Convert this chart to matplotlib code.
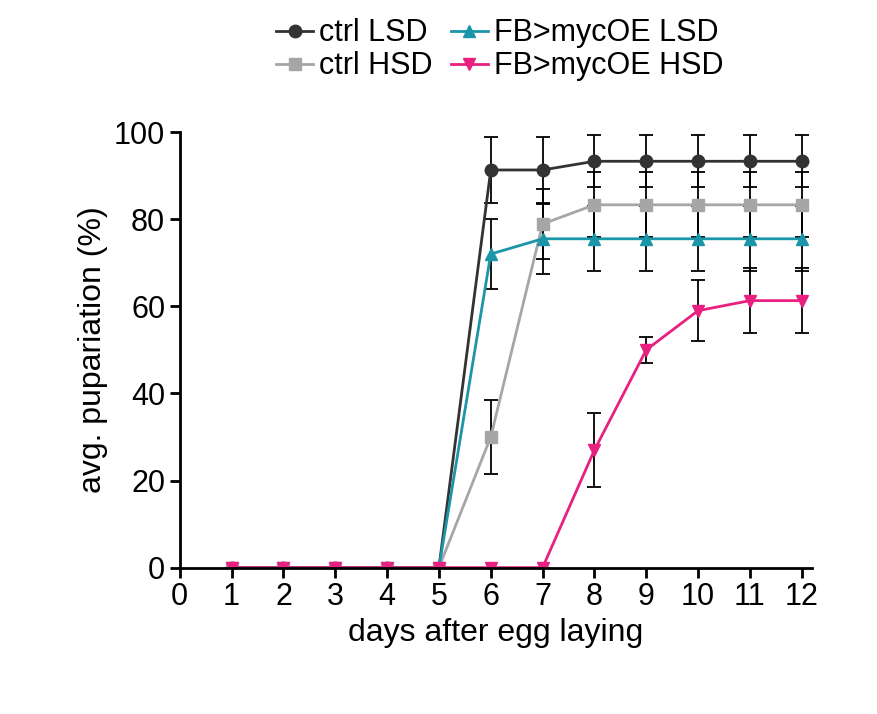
import matplotlib
matplotlib.use("Agg")
import matplotlib.pyplot as plt

days = [1,2,3,4,5,6,7,8,9,10,11,12]
ctrl_lsd = [0,0,0,0,0,91.3,91.3,93.3,93.3,93.3,93.3,93.3]
ctrl_lsd_err = [0,0,0,0,0,7.5,7.5,6,6,6,6,6]
ctrl_hsd = [0,0,0,0,0,30,78.9,83.3,83.3,83.3,83.3,83.3]
ctrl_hsd_err = [0,0,0,0,0,8.5,8,7.5,7.5,7.5,7.5,7.5]
fb_lsd = [0,0,0,0,0,72,75.5,75.5,75.5,75.5,75.5,75.5]
fb_lsd_err = [0,0,0,0,0,8,8,7.5,7.5,7.5,7.5,7.5]
fb_hsd = [0,0,0,0,0,0,0,27,50,59,61.3,61.3]
fb_hsd_err = [0,0,0,0,0,0,0,8.5,3,7,7.5,7.5]

plt.rcParams['font.family'] = 'Liberation Sans'
fig = plt.figure(figsize=(8.77,7.14), dpi=100)
ax = fig.add_axes([0.205,0.205,0.721,0.61])
series = [
    (ctrl_lsd, ctrl_lsd_err, '#333333', 'o', 'ctrl LSD'),
    (ctrl_hsd, ctrl_hsd_err, '#a6a6a6', 's', 'ctrl HSD'),
    (fb_lsd, fb_lsd_err, '#1b95a8', '^', 'FB>mycOE LSD'),
    (fb_hsd, fb_hsd_err, '#e8207f', 'v', 'FB>mycOE HSD'),
]
handles = []
for y, e, c, m, lab in series:
    ax.errorbar(days, y, yerr=e, fmt='none', ecolor='black', elinewidth=1.3, capsize=5, capthick=1.3, zorder=1)
    h, = ax.plot(days, y, color=c, marker=m, markersize=9, lw=2, label=lab, zorder=2)
    handles.append(h)
ax.set_xlim(0,12.2); ax.set_ylim(0,100)
ax.set_xticks(range(13)); ax.set_yticks(range(0,101,20))
for s in ['top','right']: ax.spines[s].set_visible(False)
for s in ['left','bottom']: ax.spines[s].set_linewidth(2)
ax.tick_params(width=2, length=7, labelsize=22)
ax.set_xlabel('days after egg laying', fontsize=23)
ax.set_ylabel('avg. pupariation (%)', fontsize=23)
fig.legend(handles=handles, loc='upper center', bbox_to_anchor=(0.57,1.0), ncol=2, frameon=False,
           prop={'size':22}, handlelength=1.2, handletextpad=0.2,
           columnspacing=0.6, labelspacing=0.1, borderaxespad=0.2)
fig.savefig('out.png', dpi=100)
